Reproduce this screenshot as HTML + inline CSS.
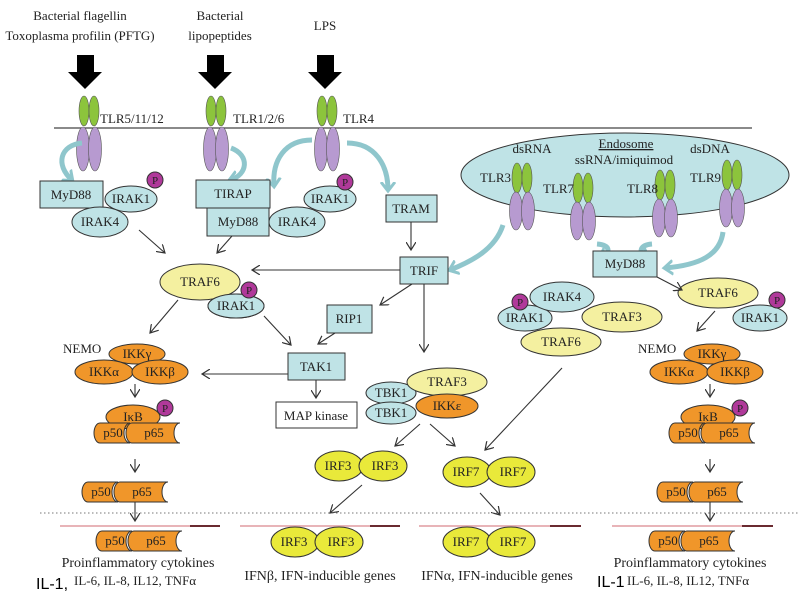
<!DOCTYPE html>
<html><head><style>body{margin:0;background:#fff}svg{display:block}</style></head><body>
<svg width="800" height="600" viewBox="0 0 800 600" xmlns="http://www.w3.org/2000/svg" font-family="Liberation Serif, serif" font-size="13" fill="#222">
<defs>
<marker id="a" markerWidth="10" markerHeight="10" refX="8" refY="5" orient="auto" markerUnits="userSpaceOnUse"><path d="M0,0 L8,5 L0,10" fill="none" stroke="#333" stroke-width="1.2"/></marker>
<marker id="b" markerWidth="16" markerHeight="16" refX="8" refY="8" orient="auto" markerUnits="userSpaceOnUse"><path d="M0,1 L9,8 L0,15" fill="none" stroke="#8fc6cc" stroke-width="3"/></marker>
<g id="rec"><ellipse cx="-5" cy="-16" rx="5" ry="15" fill="#8cc43c" stroke="#555" stroke-width=".6"/><ellipse cx="5" cy="-16" rx="5" ry="15" fill="#8cc43c" stroke="#555" stroke-width=".6"/><ellipse cx="-6" cy="22" rx="6.5" ry="22" fill="#b79ad0" stroke="#555" stroke-width=".6"/><ellipse cx="6" cy="22" rx="6.5" ry="22" fill="#b79ad0" stroke="#555" stroke-width=".6"/></g>
<g id="rec2"><ellipse cx="-5" cy="-15" rx="5" ry="15" fill="#8cc43c" stroke="#555" stroke-width=".6"/><ellipse cx="5" cy="-15" rx="5" ry="15" fill="#8cc43c" stroke="#555" stroke-width=".6"/><ellipse cx="-6" cy="18" rx="6.5" ry="19" fill="#b79ad0" stroke="#555" stroke-width=".6"/><ellipse cx="6" cy="18" rx="6.5" ry="19" fill="#b79ad0" stroke="#555" stroke-width=".6"/></g>
<g id="nf"><path d="M0,-10 H30 A6,10 0 0 0 30,10 H0 A6,10 0 0 1 0,-10Z" fill="#f0962a" stroke="#333"/><path d="M32,-10 H80 A6,10 0 0 0 80,10 H32 A6,10 0 0 1 32,-10Z" fill="#f0962a" stroke="#333"/><text x="13" y="4" text-anchor="middle">p50</text><text x="54" y="4" text-anchor="middle">p65</text></g>
<g id="P"><circle r="8" fill="#b0399a" stroke="#333"/><text y="4" text-anchor="middle" font-size="11">P</text></g>
</defs>
<g text-anchor="middle" font-size="13">
<text x="80" y="20">Bacterial flagellin</text><text x="80" y="40">Toxoplasma profilin (PFTG)</text>
<text x="220" y="20">Bacterial</text><text x="220" y="40">lipopeptides</text>
<text x="325" y="30">LPS</text></g>
<g fill="#000"><path d="M77,55 h17 v17 h8 l-17,17 l-17,-17 h9z"/><path d="M207,55 h17 v17 h8 l-17,17 l-17,-17 h9z"/><path d="M317,55 h17 v17 h8 l-17,17 l-17,-17 h9z"/></g>
<line x1="54" y1="128" x2="752" y2="128" stroke="#444" stroke-width="1.3"/>
<use href="#rec" x="89" y="127"/><use href="#rec" x="216" y="127"/><use href="#rec" x="327" y="127"/>
<text x="100" y="123">TLR5/11/12</text><text x="233" y="123">TLR1/2/6</text><text x="343" y="123">TLR4</text>
<ellipse cx="625" cy="175" rx="164" ry="42" fill="#bfe3e6" stroke="#333"/>
<text x="532" y="153" text-anchor="middle">dsRNA</text><text x="626" y="148" text-anchor="middle" text-decoration="underline">Endosome</text><text x="624" y="164" text-anchor="middle">ssRNA/imiquimod</text><text x="710" y="153" text-anchor="middle">dsDNA</text>
<use href="#rec2" x="522" y="193"/><use href="#rec2" x="583" y="203"/><use href="#rec2" x="665" y="200"/><use href="#rec2" x="732" y="190"/>
<text x="480" y="182">TLR3</text><text x="543" y="193">TLR7</text><text x="627" y="193">TLR8</text><text x="690" y="182">TLR9</text>
<g fill="none" stroke="#8fc6cc" stroke-width="5" marker-end="url(#b)">
<path d="M82,143 C60,145 55,165 72,180"/><path d="M231,148 C250,155 248,175 230,180"/>
<path d="M312,140 C285,140 272,160 274,186"/><path d="M347,143 C375,143 388,165 388,190"/>
<path d="M503,225 C495,250 470,262 450,270"/><path d="M597,244 C610,245 612,252 600,258"/>
<path d="M652,244 C640,245 637,252 648,258"/><path d="M723,232 C720,255 700,265 665,268"/>
</g>
<g stroke="#333" fill="#bfe3e6">
<rect x="40" y="181" width="63" height="27"/><rect x="196" y="180" width="74" height="28"/><rect x="207" y="208" width="62" height="28"/>
<rect x="386" y="195" width="51" height="27"/><rect x="400" y="257" width="48" height="27"/><rect x="327" y="305" width="45" height="28"/>
<rect x="288" y="353" width="57" height="27"/><rect x="593" y="251" width="64" height="26"/>
<ellipse cx="100" cy="222" rx="28" ry="15"/><ellipse cx="131" cy="199" rx="26" ry="13"/>
<ellipse cx="297" cy="222" rx="28" ry="15"/><ellipse cx="330" cy="199" rx="26" ry="13"/>
<ellipse cx="236" cy="306" rx="28" ry="12"/><ellipse cx="391" cy="393" rx="25" ry="11"/><ellipse cx="391" cy="413" rx="25" ry="11"/>
<ellipse cx="525" cy="318" rx="27" ry="13"/><ellipse cx="760" cy="318" rx="27" ry="13"/>
</g>
<ellipse cx="562" cy="297" rx="32" ry="15" fill="#bfe3e6" stroke="#333"/>
<rect x="276" y="402" width="81" height="26" fill="#fff" stroke="#333"/>
<g fill="#f4f0a0" stroke="#333"><ellipse cx="200" cy="282" rx="40" ry="18"/><ellipse cx="447" cy="382" rx="40" ry="14"/><ellipse cx="622" cy="317" rx="40" ry="15"/><ellipse cx="561" cy="342" rx="40" ry="14"/><ellipse cx="718" cy="293" rx="40" ry="15"/></g>
<ellipse cx="236" cy="306" rx="28" ry="12" fill="#bfe3e6" stroke="#333"/>
<ellipse cx="447" cy="406" rx="31" ry="12" fill="#f0962a" stroke="#333"/>
<use href="#P" x="155" y="180"/><use href="#P" x="345" y="182"/><use href="#P" x="249" y="290"/><use href="#P" x="520" y="302"/><use href="#P" x="777" y="300"/>
<g text-anchor="middle">
<text x="71" y="199">MyD88</text><text x="131" y="203">IRAK1</text><text x="100" y="226">IRAK4</text>
<text x="233" y="198">TIRAP</text><text x="238" y="226">MyD88</text><text x="297" y="226">IRAK4</text><text x="330" y="203">IRAK1</text>
<text x="411" y="213">TRAM</text><text x="424" y="275">TRIF</text><text x="349" y="323">RIP1</text><text x="316" y="371">TAK1</text><text x="316" y="420">MAP kinase</text>
<text x="200" y="286">TRAF6</text><text x="236" y="310">IRAK1</text>
<text x="391" y="397">TBK1</text><text x="391" y="417">TBK1</text><text x="447" y="386">TRAF3</text><text x="447" y="410">IKKε</text>
<text x="625" y="268">MyD88</text><text x="562" y="301">IRAK4</text><text x="525" y="322">IRAK1</text><text x="622" y="321">TRAF3</text><text x="561" y="346">TRAF6</text>
<text x="718" y="297">TRAF6</text><text x="760" y="322">IRAK1</text>
</g>
<g stroke="#333" fill="none" stroke-width="1.1" marker-end="url(#a)">
<line x1="139" y1="230" x2="165" y2="253"/><line x1="232" y1="236" x2="217" y2="253"/>
<line x1="411" y1="222" x2="411" y2="250"/><line x1="400" y1="270" x2="252" y2="270"/>
<line x1="412" y1="284" x2="380" y2="305"/><line x1="424" y1="284" x2="424" y2="352"/>
<line x1="335" y1="333" x2="318" y2="344"/><line x1="264" y1="316" x2="291" y2="345"/>
<line x1="178" y1="300" x2="150" y2="333"/><line x1="288" y1="374" x2="202" y2="374"/>
<line x1="316" y1="380" x2="316" y2="398"/>
<line x1="420" y1="424" x2="395" y2="446"/><line x1="430" y1="424" x2="455" y2="446"/>
<line x1="562" y1="368" x2="485" y2="450"/><line x1="657" y1="277" x2="682" y2="290"/>
<line x1="715" y1="311" x2="697" y2="331"/>
<line x1="362" y1="485" x2="330" y2="513"/><line x1="480" y1="493" x2="500" y2="515"/>
<line x1="135" y1="384" x2="135" y2="397"/><line x1="135" y1="459" x2="135" y2="472"/><line x1="135" y1="500" x2="135" y2="521"/>
<line x1="710" y1="384" x2="710" y2="397"/><line x1="710" y1="459" x2="710" y2="472"/><line x1="710" y1="500" x2="710" y2="521"/>
</g>
<g fill="#f0962a" stroke="#333">
<ellipse cx="137" cy="354" rx="28" ry="10"/><ellipse cx="104" cy="372" rx="29" ry="12"/><ellipse cx="160" cy="372" rx="28" ry="12"/>
<ellipse cx="712" cy="354" rx="28" ry="10"/><ellipse cx="679" cy="372" rx="29" ry="12"/><ellipse cx="735" cy="372" rx="28" ry="12"/>
<ellipse cx="133" cy="417" rx="27" ry="12"/><ellipse cx="708" cy="417" rx="27" ry="12"/>
</g>
<g text-anchor="middle"><text x="137" y="358">IKKγ</text><text x="104" y="376">IKKα</text><text x="160" y="376">IKKβ</text>
<text x="712" y="358">IKKγ</text><text x="679" y="376">IKKα</text><text x="735" y="376">IKKβ</text>
<text x="133" y="421">IκB</text><text x="708" y="421">IκB</text></g>
<text x="63" y="353">NEMO</text><text x="638" y="353">NEMO</text>
<use href="#P" x="165" y="408"/><use href="#P" x="740" y="408"/>
<use href="#nf" x="100" y="433"/><use href="#nf" x="675" y="433"/>
<use href="#nf" x="88" y="492"/><use href="#nf" x="663" y="492"/>
<use href="#nf" x="102" y="541"/><use href="#nf" x="655" y="541"/>
<line x1="40" y1="513" x2="800" y2="513" stroke="#777" stroke-dasharray="1.5,2.5"/>
<g stroke-width="2"><line x1="60" y1="526" x2="190" y2="526" stroke="#e8b4b8"/><line x1="190" y1="526" x2="220" y2="526" stroke="#6a2a30"/>
<line x1="240" y1="526" x2="370" y2="526" stroke="#e8b4b8"/><line x1="370" y1="526" x2="400" y2="526" stroke="#6a2a30"/>
<line x1="419" y1="526" x2="550" y2="526" stroke="#e8b4b8"/><line x1="550" y1="526" x2="581" y2="526" stroke="#6a2a30"/>
<line x1="612" y1="526" x2="742" y2="526" stroke="#e8b4b8"/><line x1="742" y1="526" x2="773" y2="526" stroke="#6a2a30"/></g>
<g fill="#e9e93a" stroke="#333">
<ellipse cx="339" cy="466" rx="24" ry="15"/><ellipse cx="383" cy="466" rx="24" ry="15"/>
<ellipse cx="467" cy="472" rx="24" ry="15"/><ellipse cx="511" cy="472" rx="24" ry="15"/>
<ellipse cx="295" cy="542" rx="24" ry="15"/><ellipse cx="339" cy="542" rx="24" ry="15"/>
<ellipse cx="467" cy="542" rx="24" ry="15"/><ellipse cx="511" cy="542" rx="24" ry="15"/></g>
<g text-anchor="middle"><text x="338" y="470">IRF3</text><text x="385" y="470">IRF3</text><text x="466" y="476">IRF7</text><text x="513" y="476">IRF7</text>
<text x="294" y="546">IRF3</text><text x="341" y="546">IRF3</text><text x="466" y="546">IRF7</text><text x="513" y="546">IRF7</text></g>
<g text-anchor="middle" font-size="14"><text x="138" y="567">Proinflammatory cytokines</text><text x="690" y="567">Proinflammatory cytokines</text>
<text x="320" y="580">IFNβ, IFN-inducible genes</text><text x="497" y="580">IFNα, IFN-inducible genes</text></g>
<text x="74" y="585" font-size="13">IL-6, IL-8, IL12, TNFα</text><text x="627" y="585" font-size="13">IL-6, IL-8, IL12, TNFα</text>
<text x="36" y="589" font-family="Liberation Sans, sans-serif" font-size="16" fill="#000">IL-1,</text>
<text x="597" y="587" font-family="Liberation Sans, sans-serif" font-size="16" fill="#000">IL-1</text>
</svg>
</body></html>
